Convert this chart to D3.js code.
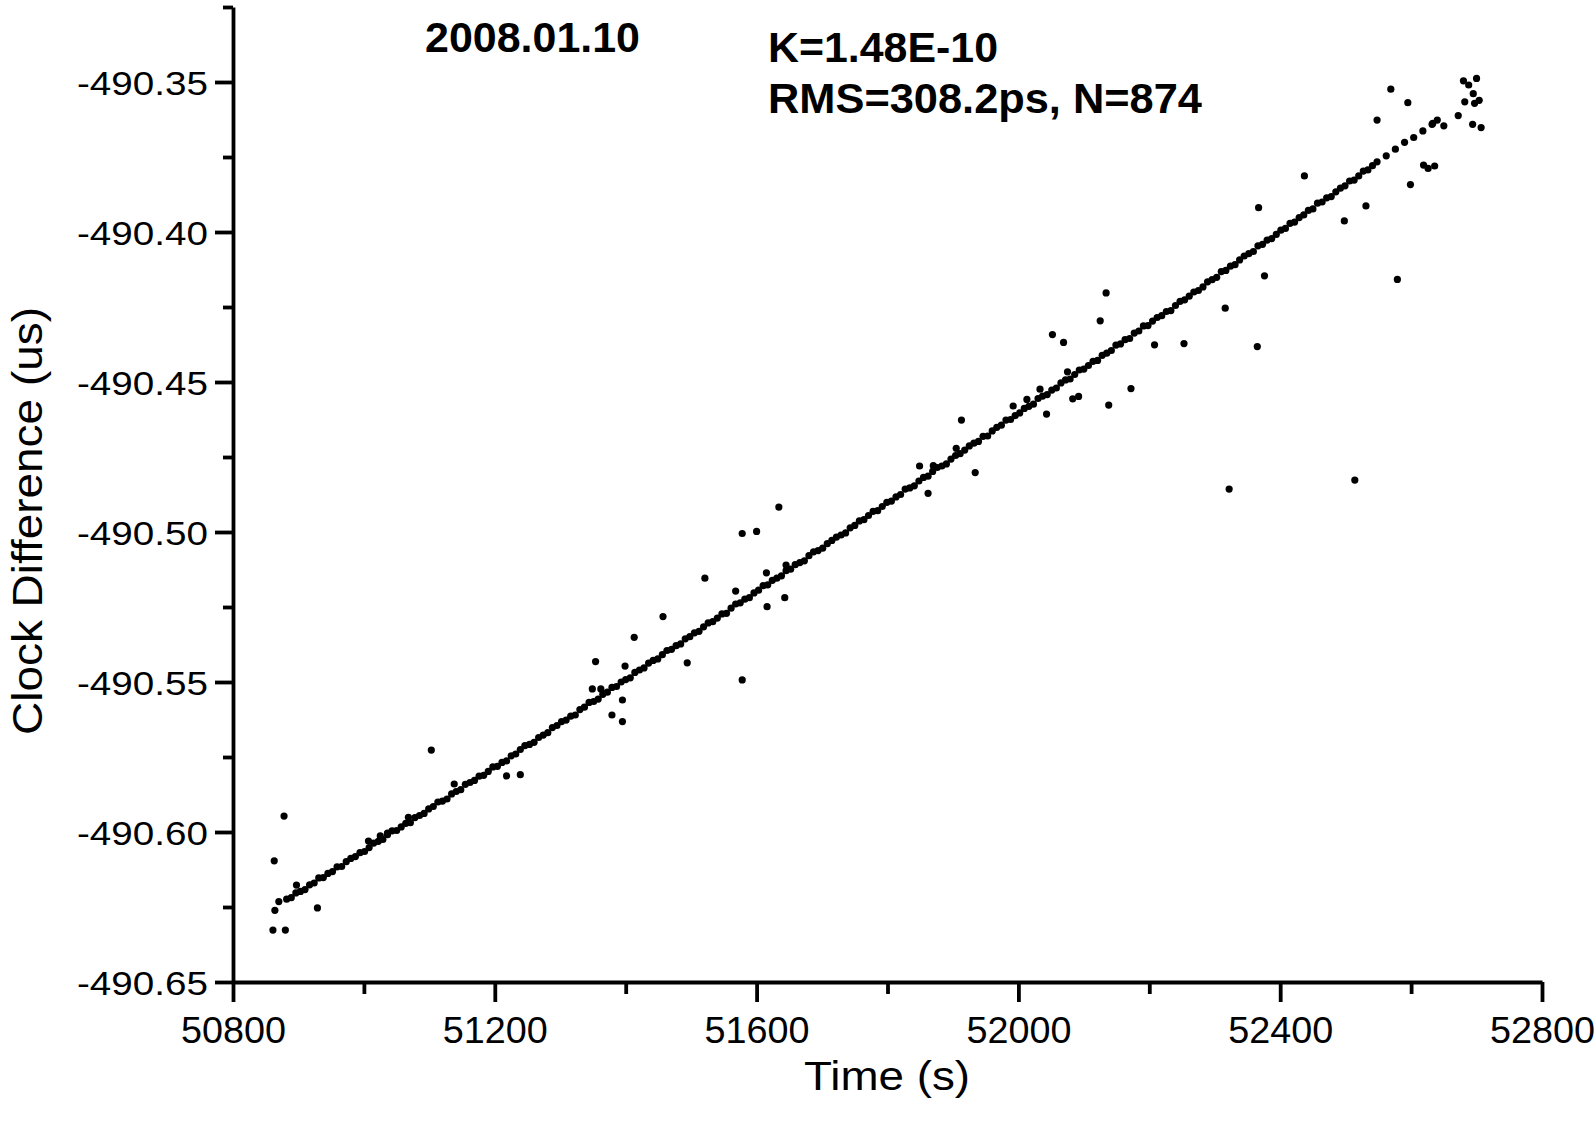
<!DOCTYPE html>
<html>
<head>
<meta charset="utf-8">
<script src="https://cdn.jsdelivr.net/npm/d3@7"></script>
<style>
  html, body { margin: 0; padding: 0; background: #fff; }
  svg { display: block; font-family: "Liberation Sans", Arial, Helvetica, sans-serif; }
</style>
</head>
<body>
<div id="chart"></div>
<script>
// Clock difference vs time, 2008.01.10

// dense band of points along the fitted drift
const bandTime = [
  50882,50889,50896,50903,50910,50917,50924,50931,50938,50945,
  50952,50959,50966,50973,50980,50987,50994,51001,51008,51015,
  51022,51029,51036,51043,51050,51057,51064,51071,51078,51085,
  51092,51099,51106,51113,51120,51127,51134,51141,51148,51155,
  51162,51169,51176,51183,51190,51197,51204,51211,51218,51225,
  51232,51239,51246,51253,51260,51267,51274,51281,51288,51295,
  51302,51309,51316,51323,51330,51337,51344,51351,51358,51365,
  51372,51379,51386,51393,51400,51407,51414,51421,51428,51435,
  51442,51449,51456,51463,51470,51477,51484,51491,51498,51505,
  51512,51519,51526,51533,51540,51547,51554,51561,51568,51575,
  51582,51589,51596,51603,51610,51617,51624,51631,51638,51645,
  51652,51659,51666,51673,51680,51687,51694,51701,51708,51715,
  51722,51729,51736,51743,51750,51757,51764,51771,51778,51785,
  51792,51799,51806,51813,51820,51827,51834,51841,51848,51855,
  51862,51869,51876,51883,51890,51897,51904,51911,51918,51925,
  51932,51939,51946,51953,51960,51967,51974,51981,51988,51995,
  52002,52009,52016,52023,52030,52037,52044,52051,52058,52065,
  52072,52079,52086,52093,52100,52107,52114,52121,52128,52135,
  52142,52149,52156,52163,52170,52177,52184,52191,52198,52205,
  52212,52219,52226,52233,52240,52247,52254,52261,52268,52275,
  52282,52289,52296,52303,52310,52317,52324,52331,52338,52345,
  52352,52359,52366,52373,52380,52387,52394,52401,52408,52415,
  52422,52429,52436,52443,52450,52457,52464,52471,52478,52485,
  52492,52499,52506,52513,52520,52527,52534,52541,52548,
  52562,52576,52590,52604,52618,52632
];
const bandValue = [
  -490.6224,-490.6219,-490.6203,-490.6198,-490.6192,-490.6176,-490.6170,-490.6153,-490.6152,-490.6138,
  -490.6132,-490.6116,-490.6115,-490.6099,-490.6088,-490.6082,-490.6069,-490.6065,-490.6052,-490.6037,
  -490.6031,-490.6025,-490.6009,-490.5996,-490.5995,-490.5983,-490.5971,-490.5969,-490.5952,-490.5945,
  -490.5938,-490.5923,-490.5915,-490.5900,-490.5897,-490.5890,-490.5873,-490.5865,-490.5859,-490.5841,
  -490.5835,-490.5828,-490.5814,-490.5811,-490.5798,-490.5783,-490.5781,-490.5768,-490.5763,-490.5746,
  -490.5740,-490.5725,-490.5712,-490.5708,-490.5701,-490.5685,-490.5677,-490.5669,-490.5652,-490.5645,
  -490.5632,-490.5627,-490.5614,-490.5610,-490.5592,-490.5584,-490.5568,-490.5565,-490.5557,-490.5541,
  -490.5534,-490.5518,-490.5515,-490.5500,-490.5492,-490.5486,-490.5468,-490.5460,-490.5453,-490.5437,
  -490.5428,-490.5423,-490.5409,-490.5395,-490.5391,-490.5379,-490.5373,-490.5356,-490.5349,-490.5336,
  -490.5331,-490.5316,-490.5303,-490.5299,-490.5287,-490.5273,-490.5271,-490.5254,-490.5240,-490.5236,
  -490.5224,-490.5219,-490.5203,-490.5194,-490.5179,-490.5176,-490.5161,-490.5154,-490.5146,-490.5129,
  -490.5124,-490.5109,-490.5102,-490.5096,-490.5079,-490.5066,-490.5062,-490.5054,-490.5039,-490.5028,
  -490.5017,-490.5010,-490.5003,-490.4986,-490.4978,-490.4963,-490.4959,-490.4945,-490.4931,-490.4929,
  -490.4915,-490.4901,-490.4897,-490.4883,-490.4875,-490.4857,-490.4853,-490.4846,-490.4830,-490.4818,
  -490.4814,-490.4798,-490.4785,-490.4780,-490.4773,-490.4757,-490.4745,-490.4739,-490.4727,-490.4713,
  -490.4704,-490.4698,-490.4681,-490.4680,-490.4663,-490.4651,-490.4644,-490.4627,-490.4625,-490.4612,
  -490.4603,-490.4588,-490.4581,-490.4574,-490.4555,-490.4547,-490.4542,-490.4527,-490.4520,-490.4503,
  -490.4493,-490.4490,-490.4475,-490.4460,-490.4457,-490.4445,-490.4431,-490.4428,-490.4411,-490.4404,
  -490.4395,-490.4377,-490.4373,-490.4359,-490.4355,-490.4337,-490.4330,-490.4313,-490.4312,-490.4297,
  -490.4285,-490.4279,-490.4265,-490.4262,-490.4245,-490.4231,-490.4226,-490.4214,-490.4200,-490.4195,
  -490.4183,-490.4166,-490.4159,-490.4151,-490.4132,-490.4128,-490.4114,-490.4109,-490.4093,-490.4080,
  -490.4072,-490.4065,-490.4046,-490.4041,-490.4027,-490.4022,-490.4008,-490.3994,-490.3988,-490.3971,
  -490.3967,-490.3952,-490.3943,-490.3928,-490.3923,-490.3904,-490.3900,-490.3886,-490.3882,-490.3866,
  -490.3854,-490.3846,-490.3830,-490.3827,-490.3813,-490.3797,-490.3793,-490.3779,-490.3766,
  -490.3746,-490.3724,-490.3701,-490.3685,-490.3663,-490.3641
];

// scattered points off the band
const outlierTime = [
  50861,50880,50863,50878,50864,50870,50897,50929,51007,51025,51036,51068,51103,51138,51218,51239,
  51349,51354,51362,51379,51395,51395,51399,51413,51457,51494,51521,51568,51578,51578,51600,51615,51616,51634,51643,51645,
  51849,51862,51870,51905,51913,51934,51992,52013,52033,52043,52052,52069,52075,52083,52092,52125,52134,52138,52172,52208,52253,
  52316,52322,52365,52367,52376,52437,52498,52514,52531,52548,52569,52579,52595,52599,52619,52626,52633,52636,52640,
  52650,52672,52680,52682,52688,52694,52695,52697,52700,52704,52707
];
const outlierValue = [
  -490.6327,-490.6327,-490.6096,-490.5947,-490.6261,-490.6232,-490.6177,-490.6253,-490.6030,-490.6013,-490.6004,-490.5951,-490.5727,-490.5840,-490.5813,-490.5809,
  -490.5523,-490.5432,-490.5523,-490.5610,-490.5560,-490.5632,-490.5447,-490.5351,-490.5282,-490.5436,-490.5154,-490.5197,-490.5493,-490.5005,-490.4998,-490.5136,-490.5249,-490.4917,-490.5219,-490.5110,
  -490.4780,-490.4871,-490.4779,-490.4721,-490.4627,-490.4802,-490.4580,-490.4558,-490.4524,-490.4607,-490.4342,-490.4368,-490.4466,-490.4556,-490.4548,-490.4296,-490.4203,-490.4577,-490.4522,-490.4376,-490.4372,
  -490.4254,-490.4857,-490.4382,-490.3919,-490.4146,-490.3813,-490.3963,-490.4827,-490.3913,-490.3627,-490.3524,-490.4158,-490.3569,-490.3842,-490.3777,-490.3788,-490.3638,-490.3780,-490.3627,
  -490.3646,-490.3612,-490.3496,-490.3566,-490.3510,-490.3641,-490.3539,-490.3571,-490.3488,-490.3561,-490.3652
];

const xMajorTicks = [50800, 51200, 51600, 52000, 52400, 52800];
const xMinorTicks = [51000, 51400, 51800, 52200, 52600];
const yMajorTicks = [-490.65, -490.60, -490.55, -490.50, -490.45, -490.40, -490.35];
const yMinorTicks = [-490.625, -490.575, -490.525, -490.475, -490.425, -490.375, -490.325];

const dateLabel = '2008.01.10';
const fitLabels = ['K=1.48E-10', 'RMS=308.2ps, N=874'];

const width = 1594, height = 1124;

const svg = d3.select('#chart').append('svg')
  .attr('width', width)
  .attr('height', height);

svg.append('rect').attr('width', width).attr('height', height).attr('fill', '#fff');

const x = d3.scaleLinear().domain([50800, 52800]).range([233, 1542]);
const y = d3.scaleLinear().domain([-490.65, -490.325]).range([982, 7]);

function inkAxis(g) {
  g.attr('font-size', null).attr('font-family', null);
  g.selectAll('path, line').attr('stroke', '#000').attr('stroke-width', 3.8);
}

// minor ticks (no labels)
svg.append('g')
  .attr('transform', 'translate(0,982)')
  .call(d3.axisBottom(x).tickValues(xMinorTicks).tickSize(12).tickFormat(''))
  .call(g => g.select('.domain').remove())
  .call(inkAxis);

svg.append('g')
  .attr('transform', 'translate(233,0)')
  .call(d3.axisLeft(y).tickValues(yMinorTicks).tickSize(10).tickFormat(''))
  .call(g => g.select('.domain').remove())
  .call(inkAxis);

// major axes
const xAxis = svg.append('g')
  .attr('transform', 'translate(0,982)')
  .call(d3.axisBottom(x).tickValues(xMajorTicks).tickSize(20).tickSizeOuter(0).tickFormat(d3.format('d')))
  .call(inkAxis);

xAxis.selectAll('text')
  .attr('y', 61)
  .attr('dy', null)
  .attr('fill', '#000')
  .attr('font-size', 36)
  .attr('textLength', 105)
  .attr('lengthAdjust', 'spacingAndGlyphs');

const yAxis = svg.append('g')
  .attr('transform', 'translate(233,0)')
  .call(d3.axisLeft(y).tickValues(yMajorTicks).tickSize(18).tickSizeOuter(0).tickPadding(7)
    .tickFormat(d => d.toFixed(2)))
  .call(inkAxis);

yAxis.selectAll('text')
  .attr('dy', '0.36em')
  .attr('fill', '#000')
  .attr('font-size', 34)
  .attr('textLength', 131)
  .attr('lengthAdjust', 'spacingAndGlyphs');

// axis titles
svg.append('text')
  .attr('x', 887).attr('y', 1090)
  .attr('text-anchor', 'middle')
  .attr('font-size', 41)
  .attr('textLength', 166)
  .attr('lengthAdjust', 'spacingAndGlyphs')
  .text('Time (s)');

svg.append('text')
  .attr('transform', 'translate(42,521) rotate(-90)')
  .attr('text-anchor', 'middle')
  .attr('font-size', 42)
  .attr('textLength', 428)
  .attr('lengthAdjust', 'spacingAndGlyphs')
  .text('Clock Difference (us)');

// annotations
svg.append('text')
  .attr('x', 425).attr('y', 52)
  .attr('font-size', 43).attr('font-weight', 'bold')
  .attr('textLength', 215).attr('lengthAdjust', 'spacingAndGlyphs')
  .text(dateLabel);

svg.append('text')
  .attr('x', 768).attr('y', 62)
  .attr('font-size', 43).attr('font-weight', 'bold')
  .attr('textLength', 230).attr('lengthAdjust', 'spacingAndGlyphs')
  .text(fitLabels[0]);

svg.append('text')
  .attr('x', 768).attr('y', 113)
  .attr('font-size', 43).attr('font-weight', 'bold')
  .attr('textLength', 434).attr('lengthAdjust', 'spacingAndGlyphs')
  .text(fitLabels[1]);

// points
const points = bandTime.map((t, i) => ({ t: t, v: bandValue[i] }))
  .concat(outlierTime.map((t, i) => ({ t: t, v: outlierValue[i] })));

svg.append('g')
  .selectAll('circle')
  .data(points)
  .join('circle')
  .attr('cx', d => x(d.t))
  .attr('cy', d => y(d.v))
  .attr('r', 3.6)
  .attr('fill', '#000');
</script>
</body>
</html>
